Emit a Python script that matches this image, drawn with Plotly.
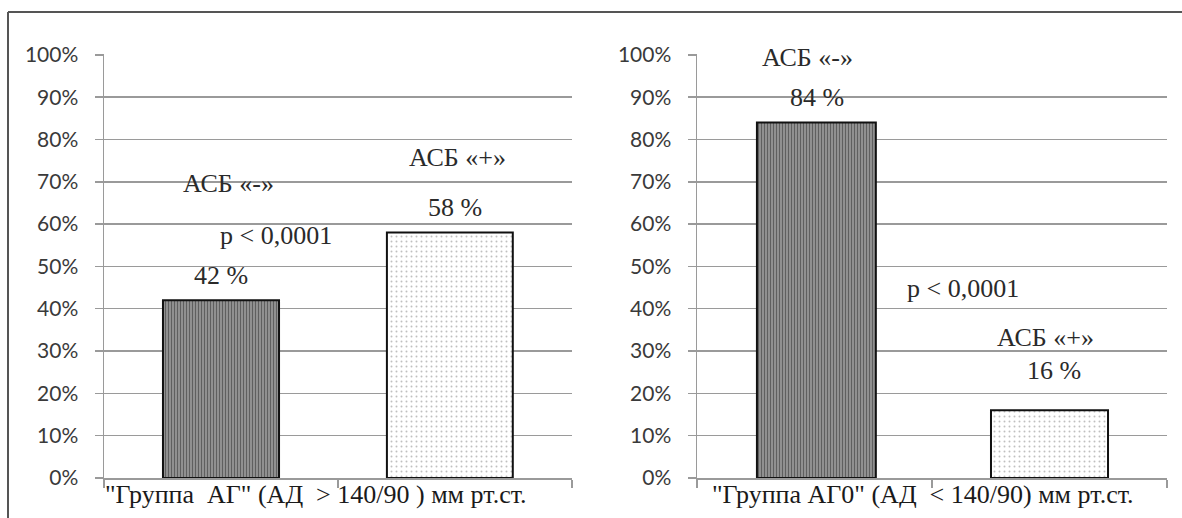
import plotly.graph_objects as go

categories = ["АСБ «-»", "АСБ «+»"]
left_values = [42, 58]
right_values = [84, 16]
y_ticks = [0, 10, 20, 30, 40, 50, 60, 70, 80, 90, 100]
y_tick_labels = [f"{v}%" for v in y_ticks]
left_title = "\"Группа  АГ\" (АД  > 140/90 ) мм рт.ст."
right_title = "\"Группа АГ0\" (АД  < 140/90) мм рт.ст."
p_text = "p < 0,0001"

W, H = 1182, 518

fig = go.Figure()

bar_patterns = [
    dict(shape="|", fgcolor="#1e1e1e", bgcolor="#a0a0a0", size=3, solidity=0.5),
    dict(shape=".", fgcolor="#808080", bgcolor="#ffffff", size=5, solidity=0.12),
]
# per-bar geometry (offset, width) in category units
left_geom = [(-0.248, 0.496), (-0.291, 0.538)]
right_geom = [(-0.245, 0.506), (-0.249, 0.498)]

for i, cat in enumerate(categories):
    for vals, geom, xa, ya in ((left_values, left_geom, "x", "y"), (right_values, right_geom, "x2", "y2")):
        fig.add_trace(go.Bar(x=[cat], y=[vals[i]], xaxis=xa, yaxis=ya,
                             offset=geom[i][0], width=geom[i][1],
                             marker=dict(color=bar_patterns[i]["bgcolor"], pattern=bar_patterns[i],
                                         line=dict(color="#111111", width=2)),
                             showlegend=False, hoverinfo="skip"))

tickfont = dict(family="Lato", size=21, color="#3a3a3a")
yaxis_common = dict(range=[0, 100.2], tickmode="array", tickvals=y_ticks, ticktext=y_tick_labels,
                    showgrid=True, gridcolor="#9a9a9a", gridwidth=1.5,
                    showline=True, linecolor="#9a9a9a", linewidth=1.5,
                    ticks="outside", ticklen=8, tickcolor="#9a9a9a", tickwidth=1.5,
                    ticklabelstandoff=12,
                    tickfont=tickfont, zeroline=False, fixedrange=True, automargin=False)
xaxis_common = dict(type="category", categoryorder="array", categoryarray=categories,
                    range=[-0.5, 1.5], showticklabels=False,
                    showline=True, linecolor="#9a9a9a", linewidth=1.5,
                    ticks="outside", ticklen=8, tickcolor="#9a9a9a", tickwidth=1.5,
                    tickson="boundaries", showgrid=False, fixedrange=True, automargin=False)

y0 = 1 - 478 / H
y1 = 1 - 54 / H
fig.update_layout(
    width=W, height=H, autosize=False,
    margin=dict(l=0, r=0, t=0, b=0, pad=0),
    paper_bgcolor="white", plot_bgcolor="white",
    barmode="overlay",
    xaxis=dict(domain=[104 / W, 572 / W], anchor="y", **xaxis_common),
    yaxis=dict(domain=[y0, y1], anchor="x", **yaxis_common),
    xaxis2=dict(domain=[697 / W, 1167 / W], anchor="y2", **xaxis_common),
    yaxis2=dict(domain=[y0, y1], anchor="x2", **yaxis_common),
)

afont = dict(family="Liberation Serif", size=26, color="#2a2a2a")
left_ann = [
    (categories[0], 0.03, 69.6),
    (p_text, 0.235, 57.3),
    (f"{left_values[0]} %", 0.0, 47.9),
    (categories[1], 1.01, 75.7),
    (f"{left_values[1]} %", 1.0, 63.9),
]
for t, x, y in left_ann:
    fig.add_annotation(text=t, x=x, y=y, xref="x", yref="y", showarrow=False, font=afont)

right_ann = [
    (categories[0], -0.03, 99.3),
    (f"{right_values[0]} %", 0.01, 89.9),
    (p_text, 0.63, 44.8),
    (categories[1], 0.985, 33.3),
    (f"{right_values[1]} %", 1.02, 25.5),
]
for t, x, y in right_ann:
    fig.add_annotation(text=t, x=x, y=y, xref="x2", yref="y2", showarrow=False, font=afont)

tfont = dict(family="Liberation Serif", size=26, color="#1a1a1a")
fig.add_annotation(text=left_title, x=316 / W, y=1 - 494 / H, xref="paper", yref="paper",
                   showarrow=False, font=tfont, xanchor="center", yanchor="middle")
fig.add_annotation(text=right_title, x=923 / W, y=1 - 494 / H, xref="paper", yref="paper",
                   showarrow=False, font=tfont, xanchor="center", yanchor="middle")

fig.add_shape(type="line", xref="paper", yref="paper", x0=8 / W, x1=1.0,
              y0=1 - 12 / H, y1=1 - 12 / H, line=dict(color="#555555", width=2))
fig.add_shape(type="line", xref="paper", yref="paper", x0=8 / W, x1=8 / W,
              y0=0, y1=1 - 12 / H, line=dict(color="#555555", width=2))

fig.write_html("out.html", include_plotlyjs=True, full_html=True,
               config={"displayModeBar": False, "staticPlot": True},
               post_script="document.body.style.margin='0';")
